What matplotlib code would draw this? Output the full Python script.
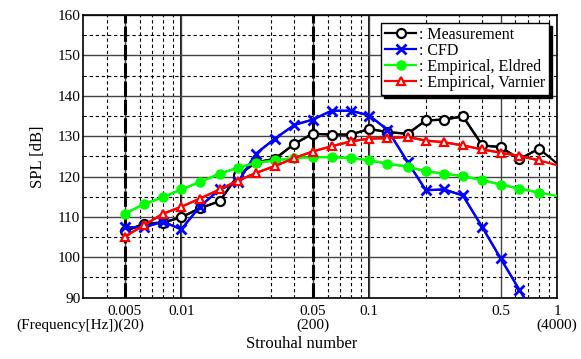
import matplotlib
matplotlib.use("Agg")
import matplotlib.pyplot as plt
from matplotlib.ticker import FixedLocator, NullFormatter, MultipleLocator

plt.rcParams['font.family'] = ['Liberation Serif', 'DejaVu Serif']

# 1/3 octave band centres expressed as Strouhal number
st = [0.005, 0.0063, 0.008, 0.01, 0.0125, 0.016, 0.02, 0.025, 0.0315,
      0.04, 0.05, 0.063, 0.08, 0.1, 0.125, 0.16, 0.2, 0.25, 0.315,
      0.4, 0.5, 0.63, 0.8, 1.0]

measurement = [106.4, 108.3, 108.6, 109.9, 112.1, 113.9, 120.3, 123.5,
               124.4, 128.1, 130.6, 130.4, 130.4, 131.8, 131.0, 130.6,
               133.9, 134.1, 134.9, 127.7, 127.3, 124.3, 126.9, 123.2]
cfd = [107.5, 107.4, 108.8, 106.9, 112.5, 116.8, 118.6, 125.7, 129.4,
       132.8, 134.1, 136.3, 136.3, 135.1, 131.6, 123.6, 116.6, 116.8,
       115.3, 107.4, 99.7, 91.9, 84.0]
eldred = [110.8, 113.1, 114.9, 116.8, 118.6, 120.7, 122.2, 123.4, 124.0,
          124.6, 124.8, 124.8, 124.6, 124.0, 123.2, 122.4, 121.3, 120.7,
          120.1, 119.1, 118.0, 117.0, 116.0, 115.2]
varnier = [105.1, 107.9, 110.8, 112.5, 114.5, 116.8, 119.0, 120.9, 122.6,
           124.6, 126.2, 127.5, 128.7, 129.4, 129.5, 129.8, 128.9, 128.5,
           127.7, 126.7, 125.9, 125.1, 124.0, 122.8]

xticks = [0.005, 0.01, 0.05, 0.1, 0.5, 1]
xticklabels = ['0.005', '0.01', '0.05', '0.1', '0.5', '1']
xminor = [0.004, 0.006, 0.007, 0.008, 0.009, 0.02, 0.03, 0.04, 0.06, 0.07,
          0.08, 0.09, 0.2, 0.3, 0.4, 0.6, 0.7, 0.8, 0.9]
freq_labels = [(0.005, '(Frequency[Hz])(20)'), (0.05, '(200)'),
               (1, '(4000)')]

fig = plt.figure(figsize=(5.81, 3.59), dpi=100)
ax = fig.add_axes([0.143, 0.171, 0.816, 0.787])


def draw(x, y, label, color, **mk):
    # full line first, then the markers (none drawn on the right border)
    ax.plot(x, y, color=color, lw=1.6, zorder=3)
    n = len(x) if len(x) < len(st) else len(x) - 1
    ax.plot(x[:n], y[:n], color=color, lw=1.6, label=label, zorder=3, **mk)


draw(st, measurement, ': Measurement', 'black',
     marker='o', ms=6.5, mfc='white', mec='black', mew=1.6)
draw(st[:len(cfd)], cfd, ': CFD', '#0000ff',
     marker='x', ms=7.5, mew=2)
draw(st, eldred, ': Empirical, Eldred', '#00ff00',
     marker='o', ms=6.5, mfc='#00ff00', mec='#00ff00')
draw(st, varnier, ': Empirical, Varnier', '#ff0000',
     marker='^', ms=5.5, mfc='white', mec='#ff0000', mew=1.6)

ax.set_xscale('log')
ax.set_xlim(0.003, 1)
ax.set_ylim(90, 160)
ax.xaxis.set_major_locator(FixedLocator(xticks))
ax.set_xticklabels(xticklabels)
ax.xaxis.set_minor_locator(FixedLocator(xminor))
ax.xaxis.set_minor_formatter(NullFormatter())
ax.yaxis.set_major_locator(MultipleLocator(10))
ax.yaxis.set_minor_locator(MultipleLocator(5))

ax.grid(which='major', color='#444444', lw=1.0, ls='-', zorder=1)
ax.grid(which='minor', color='black', lw=0.8, ls=(0, (3, 2.5)), zorder=1)
for xv in (0.01, 0.1):
    ax.axvline(xv, color='black', lw=1.3, zorder=1.5)
for xv in (0.005, 0.05):
    ax.axvline(xv, color='black', lw=2.2, ls=(0, (5, 1)), zorder=2)

ax.tick_params(which='both', length=0, labelsize=11)
ax.tick_params(axis='x', pad=5)
ax.tick_params(axis='y', pad=2)
for s in ax.spines.values():
    s.set_linewidth(1.2)

for xv, txt in freq_labels:
    if xv == 0.005:
        ax.annotate(txt, (xv, 0), xycoords=('data', 'axes fraction'),
                    xytext=(14, -15), textcoords='offset points',
                    ha='right', va='top', fontsize=11)
    else:
        ax.annotate(txt, (xv, 0), xycoords=('data', 'axes fraction'),
                    xytext=(0, -15), textcoords='offset points',
                    ha='center', va='top', fontsize=11)

ax.set_xlabel('Strouhal number', fontsize=12)
ax.xaxis.set_label_coords(0.462, -0.135)
ax.set_ylabel('SPL [dB]', fontsize=12, labelpad=8)

leg = ax.legend(loc='upper right', fontsize=11.5, frameon=True,
                fancybox=False, edgecolor='black', framealpha=1,
                borderaxespad=0.5, labelspacing=0.0, handlelength=1.9,
                handletextpad=0.2, borderpad=0.25,
                shadow={'color': 'black', 'alpha': 1})
leg.get_frame().set_linewidth(1.0)
leg.set_zorder(5)

fig.savefig('out.png', dpi=100)
